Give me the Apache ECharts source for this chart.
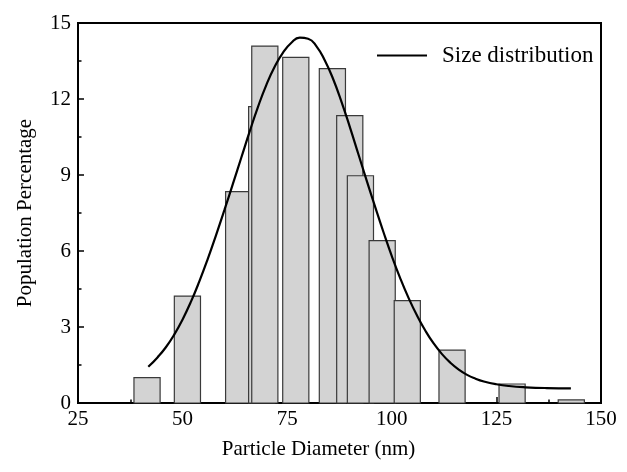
<!DOCTYPE html>
<html>
<head>
<meta charset="utf-8">
<script src="https://cdn.jsdelivr.net/npm/echarts@6/dist/echarts.min.js"></script>
<style>
html,body{margin:0;padding:0;background:#fff;}
#chart{width:627px;height:472px;}
</style>
</head>
<body>
<div id="chart"></div>
<script>
// Histogram bins (centre diameter, nm) and population percentage
const binCenters = [41.5, 51.15, 63.4, 68.9, 69.65, 77.05, 85.8, 89.95, 92.5, 97.7, 103.7, 114.4, 128.75, 142.9];
const binValues  = [1.0, 4.22, 8.34, 11.7, 14.09, 13.64, 13.2, 11.34, 8.97, 6.41, 4.04, 2.09, 0.75, 0.12];
const BIN_WIDTH = 6.25;

// Fitted size distribution curve
const curveX = [41.8, 44, 46, 48, 50, 52, 54, 56, 58, 60, 62, 64, 66, 68, 70, 72, 74, 76, 78, 80, 82, 84, 86, 88, 90, 92, 94, 96, 98, 100, 102, 104, 106, 108, 110, 112, 114, 116, 118, 120, 122, 125, 128, 132, 137, 142.8];
const curveY = [1.43, 1.8, 2.2, 2.7, 3.3, 4.0, 4.8, 5.68, 6.63, 7.62, 8.64, 9.67, 10.7, 11.68, 12.55, 13.27, 13.83, 14.22, 14.42, 14.38, 14.08, 13.52, 12.78, 11.88, 10.88, 9.83, 8.78, 7.75, 6.75, 5.8, 4.93, 4.15, 3.46, 2.86, 2.35, 1.93, 1.59, 1.32, 1.11, 0.96, 0.85, 0.74, 0.67, 0.62, 0.59, 0.58];

const xTicks = [25, 50, 75, 100, 125, 150];
const yTicks = [0, 3, 6, 9, 12, 15];

const FONT = '"Liberation Serif", "DejaVu Serif", serif';

const barData = binCenters.map((c, i) => [c, binValues[i]]);
const lineData = curveX.map((x, i) => [x, curveY[i]]);

const chart = echarts.init(document.getElementById('chart'), null, {renderer: 'canvas'});

const axisCommon = {
  axisLine: {show: true, onZero: false, lineStyle: {color: '#000', width: 2}},
  axisTick: {show: true, inside: true, length: 6, lineStyle: {color: '#000', width: 1.5}},
  minorTick: {show: true, splitNumber: 2, length: 3.5, lineStyle: {color: '#000', width: 1.5}},
  splitLine: {show: false},
  axisLabel: {color: '#000', fontSize: 21, fontFamily: FONT},
  nameTextStyle: {color: '#000', fontSize: 21, fontFamily: FONT}
};

chart.setOption({
  animation: false,
  backgroundColor: '#fff',
  grid: {left: 78, right: 26, top: 23, bottom: 69, show: true, borderColor: '#000', borderWidth: 2, containLabel: false},
  legend: {
    data: [{name: 'Size distribution', icon: 'rect'}],
    left: 377, top: 44, padding: 0,
    itemWidth: 50, itemHeight: 2.2,
    itemStyle: {color: '#000', borderWidth: 0},
    textStyle: {color: '#000', fontSize: 23, fontFamily: FONT, padding: [0, 0, 0, 10]},
    selectedMode: false
  },
  xAxis: Object.assign({}, axisCommon, {
    type: 'value', min: xTicks[0], max: xTicks[xTicks.length - 1], interval: 25,
    name: 'Particle Diameter (nm)', nameLocation: 'middle', nameGap: 36,
    nameTextStyle: {color: '#000', fontSize: 21, fontFamily: FONT, padding: [0, 42, 0, 0]},
    axisLabel: {color: '#000', fontSize: 21, fontFamily: FONT, margin: 6}
  }),
  yAxis: Object.assign({}, axisCommon, {
    type: 'value', min: yTicks[0], max: yTicks[yTicks.length - 1], interval: 3,
    name: 'Population Percentage', nameLocation: 'middle', nameGap: 42,
    axisLabel: {color: '#000', fontSize: 21, fontFamily: FONT, margin: 7}
  }),
  series: [
    {
      type: 'custom',
      name: 'bins',
      data: barData,
      z: 2,
      renderItem: function (params, api) {
        const c = api.value(0), h = api.value(1);
        const p1 = api.coord([c - BIN_WIDTH / 2, h]);
        const p2 = api.coord([c + BIN_WIDTH / 2, 0]);
        return {
          type: 'rect',
          shape: {x: p1[0], y: p1[1], width: p2[0] - p1[0], height: p2[1] - p1[1]},
          style: {fill: '#d3d3d3', stroke: '#3a3a3a', lineWidth: 1.2}
        };
      }
    },
    {
      type: 'line',
      name: 'Size distribution',
      data: lineData,
      smooth: 0.5,
      symbol: 'none',
      showSymbol: false,
      z: 5,
      lineStyle: {color: '#000', width: 2.2},
      itemStyle: {color: '#000'}
    }
  ]
});
</script>
</body>
</html>
